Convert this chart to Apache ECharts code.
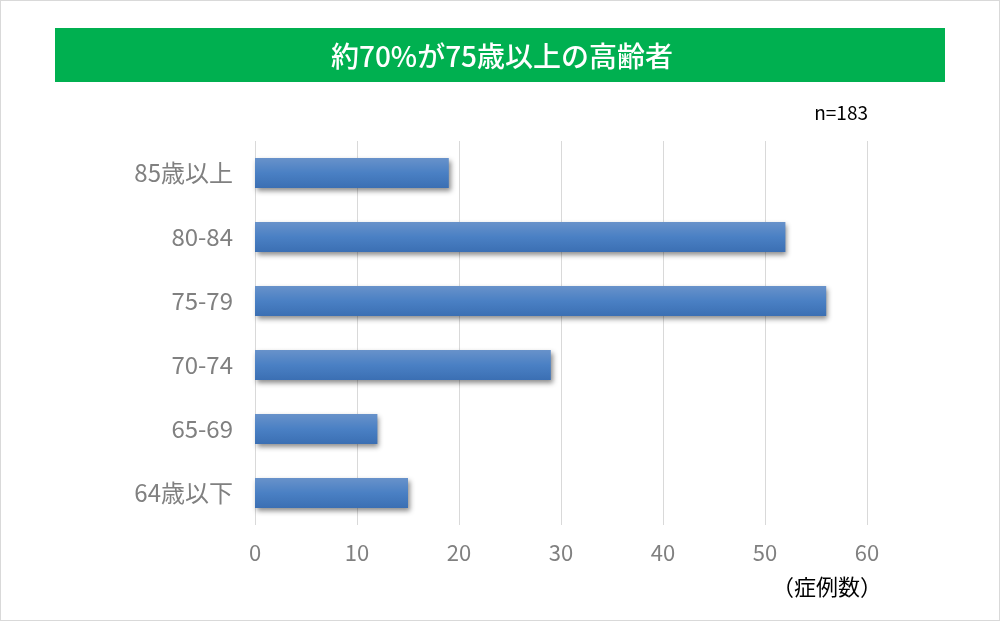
<!DOCTYPE html>
<html><head><meta charset="utf-8">
<script src="https://cdn.jsdelivr.net/npm/echarts@6/dist/echarts.min.js"></script>
<style>
html,body{margin:0;padding:0;background:#fff;}
#wrap{position:relative;width:1000px;height:621px;}
#frame{position:absolute;left:0;top:0;width:998px;height:619px;border:1px solid #d9d9d9;pointer-events:none;}
#chart{position:absolute;left:0;top:0;width:1000px;height:621px;}
</style></head>
<body><div id="wrap"><div id="chart"></div><div id="frame"></div></div>
<script>
const categories = ['64歳以下', '65-69', '70-74', '75-79', '80-84', '85歳以上'];
const cases = [15, 12, 29, 56, 52, 19];
const xTicks = [0, 10, 20, 30, 40, 50, 60];
const titleText = '約70%が75歳以上の高齢者';
const nText = 'n=183';
const unitText = '（症例数）';

const font = '"Noto Sans CJK JP", "Noto Sans", sans-serif';
const chart = echarts.init(document.getElementById('chart'), null, {renderer: 'canvas'});
chart.setOption({
  animation: false,
  backgroundColor: '#fff',
  graphic: [
    {type: 'rect', shape: {x: 55, y: 28, width: 890, height: 54}, style: {fill: '#00b050'}},
    {type: 'text', x: 502, y: 56, style: {text: titleText, fill: '#fff', font: '500 28px ' + font, align: 'center', verticalAlign: 'middle'}},
    {type: 'text', x: 868, y: 113, style: {text: nText, fill: '#000', font: '19px ' + font, align: 'right', verticalAlign: 'middle'}},
    {type: 'text', x: 882, y: 587, style: {text: unitText, fill: '#000', font: '22px ' + font, align: 'right', verticalAlign: 'middle'}}
  ],
  grid: {left: 255, right: 133, top: 141, height: 384, containLabel: false},
  xAxis: {
    type: 'value', min: xTicks[0], max: xTicks[xTicks.length - 1], interval: 10,
    axisLine: {show: false}, axisTick: {show: false},
    axisLabel: {color: '#808080', fontSize: 22, fontFamily: font, margin: 17},
    splitLine: {show: true, lineStyle: {color: '#d9d9d9', width: 1}}
  },
  yAxis: {
    type: 'category', data: categories,
    axisLine: {show: false}, axisTick: {show: false},
    axisLabel: {color: '#808080', fontSize: 24, fontFamily: font, margin: 22}
  },
  series: [{
    type: 'bar', data: cases, barWidth: 30,
    itemStyle: {
      color: new echarts.graphic.LinearGradient(0, 0, 0, 1, [
        {offset: 0, color: '#6892ca'},
        {offset: 0.5, color: '#4a80c4'},
        {offset: 1, color: '#3b6fb3'}
      ]),
      shadowColor: 'rgba(0,0,0,0.45)', shadowBlur: 5, shadowOffsetX: 2, shadowOffsetY: 3
    }
  }]
});
</script></body></html>
